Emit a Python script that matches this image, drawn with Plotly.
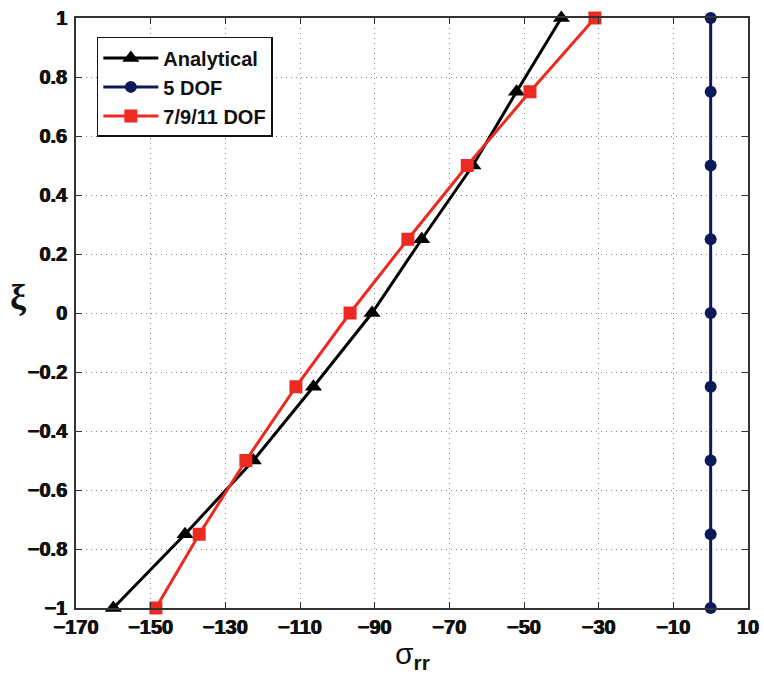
import plotly.graph_objects as go

# Normalised thickness coordinate
xi = [-1.0, -0.75, -0.5, -0.25, 0.0, 0.25, 0.5, 0.75, 1.0]

# Radial stress along the thickness
sigma_analytical = [-160.0, -140.8, -122.5, -106.4, -90.7, -77.4, -63.7, -52.0, -40.0]
sigma_5dof = [0.0, 0.0, 0.0, 0.0, 0.0, 0.0, 0.0, 0.0, 0.0]
sigma_7911dof = [-148.6, -137.0, -124.5, -111.1, -96.6, -81.1, -65.2, -48.4, -31.0]

x_ticks = [-170, -150, -130, -110, -90, -70, -50, -30, -10, 10]
y_ticks = [-1, -0.8, -0.6, -0.4, -0.2, 0, 0.2, 0.4, 0.6, 0.8, 1]
y_tick_text = ["\u22121", "\u22120.8", "\u22120.6", "\u22120.4", "\u22120.2", "0",
               "0.2", "0.4", "0.6", "0.8", "1"]
x_tick_text = [("\u2212" + str(-v)) if v < 0 else str(v) for v in x_ticks]

BLACK = "#000000"
NAVY = "#0d1a5a"
RED = "#ec2a22"
INK = "#111111"
SANS = "Arial"

fig = go.Figure()

fig.add_trace(go.Scatter(
    x=sigma_analytical, y=xi, name="Analytical", mode="lines+markers",
    line=dict(color=BLACK, width=3),
    marker=dict(symbol="triangle-up", size=15, color=BLACK),
    cliponaxis=False,
))
fig.add_trace(go.Scatter(
    x=sigma_5dof, y=xi, name="5 DOF", mode="lines+markers",
    line=dict(color=NAVY, width=3),
    marker=dict(symbol="circle", size=12, color=NAVY),
    cliponaxis=False,
))
fig.add_trace(go.Scatter(
    x=sigma_7911dof, y=xi, name="7/9/11 DOF", mode="lines+markers",
    line=dict(color=RED, width=3),
    marker=dict(symbol="square", size=13, color=RED),
    cliponaxis=False,
))

# Heavy tick labels: bold weight plus a thin outline to thicken the strokes
tick_font = dict(family=SANS, size=20, color=INK, weight=900,
                 shadow="0.5px 0 0 #111111, -0.5px 0 0 #111111")

common_axis = dict(
    ticks="inside", ticklen=6, tickwidth=1, tickcolor="#333333",
    showline=True, linecolor="#333333", linewidth=1.5, mirror="ticks",
    showgrid=True, gridcolor="#8a8a8a", griddash="1px,4px", gridwidth=1,
    zeroline=False, automargin=False, tickfont=tick_font,
)

fig.update_layout(
    xaxis=dict(range=[-170, 10], tickmode="array", tickvals=x_ticks,
               ticktext=x_tick_text, **common_axis),
    yaxis=dict(range=[-1, 1], tickmode="array", tickvals=y_ticks,
               ticktext=y_tick_text, ticklabelstandoff=3, **common_axis),
)

fig.add_annotation(
    text="\u03be", xref="paper", yref="paper", x=-0.086, y=0.527,
    xanchor="center", yanchor="middle", showarrow=False,
    font=dict(family="Liberation Serif", size=36, color=INK, weight=700),
)
fig.add_annotation(
    text="\u03c3<sub><b>rr</b></sub>", xref="paper", yref="paper", x=0.5, y=-0.115,
    xanchor="center", yanchor="bottom", showarrow=False,
    font=dict(family=SANS, size=30, color=INK, weight="normal"),
)

fig.update_layout(
    width=764, height=685,
    margin=dict(l=76, r=16, t=18, b=77),
    paper_bgcolor="white", plot_bgcolor="white",
    font=dict(family=SANS, color=INK),
    legend=dict(
        x=0.031, y=0.968, xanchor="left", yanchor="top",
        bgcolor="white", bordercolor="#111111", borderwidth=1.5,
        font=dict(family=SANS, size=20, color=INK, weight="bold"),
        itemwidth=55, tracegroupgap=0,
    ),
    showlegend=True,
)

fig.write_html("out.html")
